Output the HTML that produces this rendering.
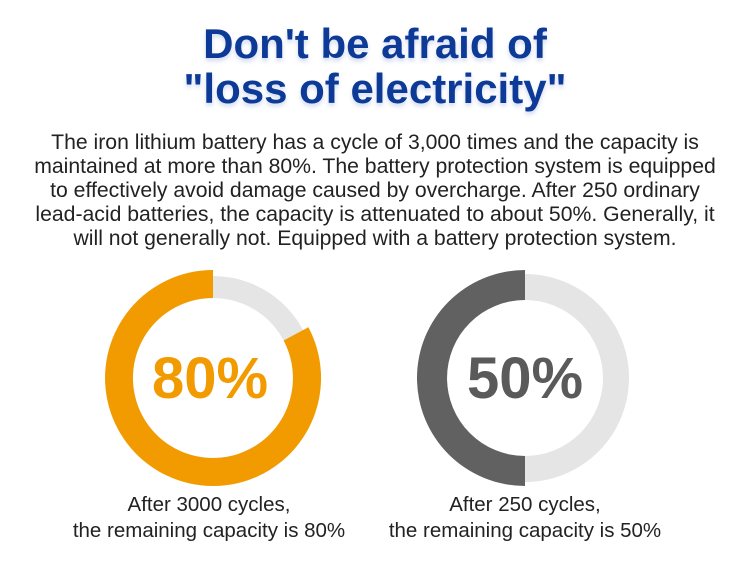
<!DOCTYPE html>
<html><head><meta charset="utf-8"><style>
html,body{margin:0;padding:0;background:#fff;}
body{width:750px;height:575px;position:relative;overflow:hidden;font-family:"Liberation Sans",sans-serif;}
.t{position:absolute;left:0;width:750px;text-align:center;color:#0c3a96;font-weight:bold;font-size:42px;white-space:nowrap;text-shadow:0 3px 4px rgba(80,110,200,0.25);}
.p{position:absolute;left:0;width:750px;text-align:center;color:#222;font-size:21.2px;line-height:24px;white-space:nowrap;}
.c{position:absolute;text-align:center;color:#222;font-size:20.5px;line-height:26px;white-space:nowrap;width:360px;}
</style></head><body>
<div class="t" style="top:20px;">Don't be afraid of</div>
<div class="t" style="top:65px;">"loss of electricity"</div>
<div class="p" style="top:131px;">The iron lithium battery has a cycle of 3,000 times and the capacity is<br>maintained at more than 80%. The battery protection system is equipped<br>to effectively avoid damage caused by overcharge. After 250 ordinary<br>lead-acid batteries, the capacity is attenuated to about 50%. Generally, it<br>will not generally not. Equipped with a battery protection system.</div>
<svg width="750" height="575" style="position:absolute;left:0;top:0;">
<circle cx="213" cy="378" r="91" fill="none" stroke="#e5e5e5" stroke-width="22"/>
<path d="M213,270 A108,108 0 1,0 308.4,327.3 L283.6,340.5 A80,80 0 1,1 213,298 Z" fill="#f29b00"/>
<text x="210" y="398" text-anchor="middle" font-family="Liberation Sans" font-weight="bold" font-size="58" fill="#f29b00">80%</text>
<circle cx="525" cy="378" r="91" fill="none" stroke="#e5e5e5" stroke-width="26"/>
<path d="M525,270 A108,108 0 0,0 525,486 L525,456 A78,78 0 0,1 525,300 Z" fill="#616161"/>
<text x="525" y="398" text-anchor="middle" font-family="Liberation Sans" font-weight="bold" font-size="58" fill="#5a5a5a">50%</text>
</svg>
<div class="c" style="left:29px;top:492px;">After 3000 cycles,<br>the remaining capacity is 80%</div>
<div class="c" style="left:345px;top:492px;">After 250 cycles,<br>the remaining capacity is 50%</div>
</body></html>
